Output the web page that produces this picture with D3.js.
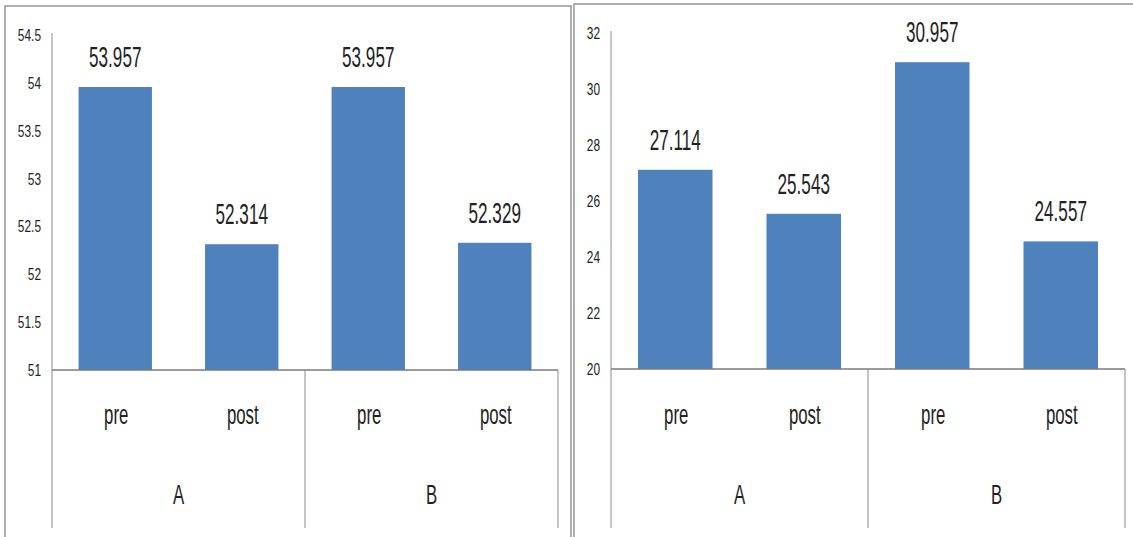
<!DOCTYPE html>
<html>
<head>
<meta charset="utf-8">
<script src="https://cdn.jsdelivr.net/npm/d3@7"></script>
<style>
html,body{margin:0;padding:0;background:#fff;}
svg{display:block;}
text{font-family:"Liberation Sans",Arial,sans-serif;fill:#222;}
</style>
</head>
<body>
<svg id="c" width="1133" height="537"></svg>
<script>
// ---- data ----
const groups = ["A", "B"];
const phases = ["pre", "post"];
const leftValues = [53.957, 52.314, 53.957, 52.329];
const rightValues = [27.114, 25.543, 30.957, 24.557];
const leftTicks = [51, 51.5, 52, 52.5, 53, 53.5, 54, 54.5];
const rightTicks = [20, 22, 24, 26, 28, 30, 32];

const svg = d3.select("#c");
const barColor = "#4F81BD";

function panel(cfg) {
  const g = svg.append("g");
  // frame
  g.append("rect").attr("x", cfg.frame[0]).attr("y", cfg.frame[1])
    .attr("width", cfg.frame[2]).attr("height", cfg.frame[3])
    .attr("fill", "#fff").attr("stroke", "#9c9c9c").attr("stroke-width", 1.6);

  const cats = [];
  groups.forEach(gr => phases.forEach(p => cats.push(gr + "|" + p)));
  const data = cats.map((c, i) => ({key: c, group: c.split("|")[0], phase: c.split("|")[1], value: cfg.values[i]}));

  const x = d3.scaleBand().domain(cats).range([cfg.x0, cfg.x1]).paddingInner(0.42).paddingOuter(0.21);
  const y = d3.scaleLinear().domain([cfg.ticks[0], cfg.ticks[cfg.ticks.length - 1]]).range([cfg.yBottom, cfg.yTop]);

  // y axis
  const ya = g.append("g").attr("transform", `translate(${cfg.x0},0)`)
    .call(d3.axisLeft(y).tickValues(cfg.ticks).tickSize(0).tickPadding(11).tickFormat(d => String(d)));
  ya.select(".domain").attr("stroke", "#8a8a8a").attr("d", `M0,${cfg.yTop - 2}V${cfg.yBottom}`);
  ya.selectAll("text")
    .attr("font-size", 17).attr("font-family", "Liberation Sans, Arial, sans-serif").attr("fill", "#222")
    .attr("transform", "scale(0.7,1)").attr("x", -11 / 0.7);

  // bars
  g.selectAll("rect.bar").data(data).join("rect").attr("class", "bar")
    .attr("x", d => x(d.key)).attr("width", x.bandwidth())
    .attr("y", d => y(d.value)).attr("height", d => y(cfg.ticks[0]) - y(d.value))
    .attr("fill", barColor);

  // value labels
  g.selectAll("text.val").data(data).join("text").attr("class", "val")
    .attr("transform", d => `translate(${x(d.key) + x.bandwidth() / 2},${y(d.value) - 20}) scale(0.59,1)`)
    .attr("text-anchor", "middle").attr("font-size", 29).attr("fill", "#222")
    .text(d => d.value.toFixed(3));

  // x axis baseline
  g.append("line").attr("x1", cfg.x0).attr("x2", cfg.x1)
    .attr("y1", y(cfg.ticks[0])).attr("y2", y(cfg.ticks[0]))
    .attr("stroke", "#7a7a7a").attr("stroke-width", 1.3);

  // category dividers
  const step = (cfg.x1 - cfg.x0) / groups.length;
  d3.range(groups.length + 1).forEach(i => {
    const xx = cfg.x0 + i * step;
    g.append("line").attr("x1", xx).attr("x2", xx)
      .attr("y1", y(cfg.ticks[0])).attr("y2", 528)
      .attr("stroke", "#8a8a8a").attr("stroke-width", 1);
  });

  // phase labels
  g.selectAll("text.ph").data(data).join("text").attr("class", "ph")
    .attr("transform", d => `translate(${x(d.key) + x.bandwidth() / 2 + 1},424) scale(0.6,1)`)
    .attr("text-anchor", "middle").attr("font-size", 28).attr("fill", "#222")
    .text(d => d.phase);

  // group labels
  g.selectAll("text.gr").data(groups).join("text").attr("class", "gr")
    .attr("transform", (d, i) => `translate(${cfg.x0 + (i + 0.5) * step},504) scale(0.6,1)`)
    .attr("text-anchor", "middle").attr("font-size", 28).attr("fill", "#222")
    .text(d => d);
}

panel({frame: [5, 6, 566, 545], values: leftValues, ticks: leftTicks,
  x0: 52, x1: 558, yBottom: 370, yTop: 35});
panel({frame: [574, 4, 575, 545], values: rightValues, ticks: rightTicks,
  x0: 611, x1: 1125, yBottom: 369, yTop: 33});
</script>
</body>
</html>
